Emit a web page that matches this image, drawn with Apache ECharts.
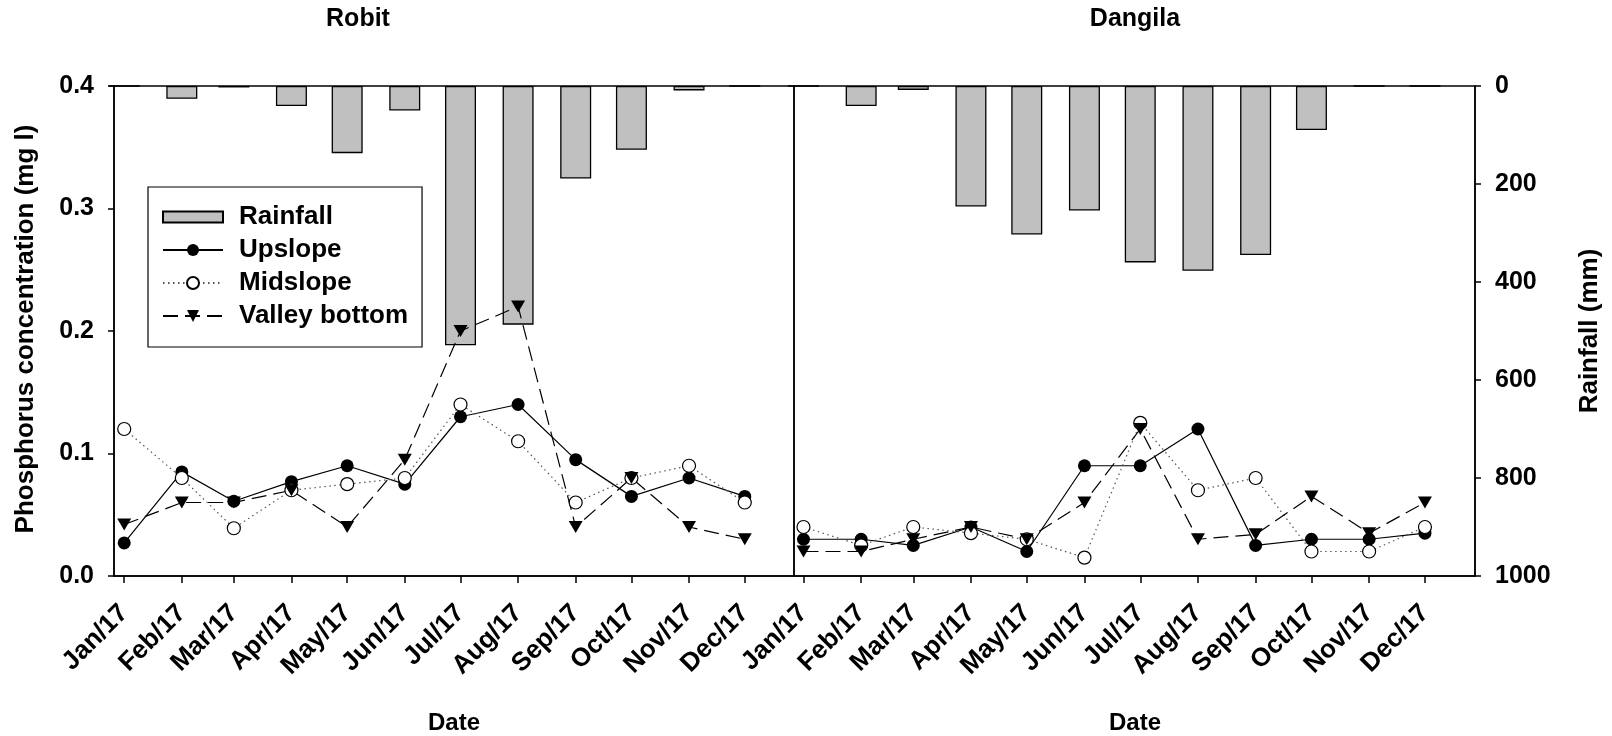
<!DOCTYPE html>
<html>
<head>
<meta charset="utf-8">
<script src="https://cdn.jsdelivr.net/npm/echarts@6/dist/echarts.min.js"></script>
<style>
html,body{margin:0;padding:0;background:#fff;}
#chart{width:1612px;height:736px;}
</style>
</head>
<body>
<div id="chart"></div>
<script>
// ---- data ----
const monthDates = ['2017-01-01','2017-02-01','2017-03-01','2017-04-01','2017-05-01','2017-06-01',
                    '2017-07-01','2017-08-01','2017-09-01','2017-10-01','2017-11-01','2017-12-01'];
const monthLabels = ['Jan/17','Feb/17','Mar/17','Apr/17','May/17','Jun/17',
                     'Jul/17','Aug/17','Sep/17','Oct/17','Nov/17','Dec/17'];
const concTicks = [0, 0.1, 0.2, 0.3, 0.4];
const rainTicks = [0, 200, 400, 600, 800, 1000];

const robitRain     = [0, 26, 3, 41, 137, 50, 529, 487, 189, 130, 9, 0];
const robitUpslope  = [0.027, 0.085, 0.061, 0.077, 0.090, 0.075, 0.130, 0.140, 0.095, 0.065, 0.080, 0.065];
const robitMidslope = [0.120, 0.080, 0.039, 0.070, 0.075, 0.080, 0.140, 0.110, 0.060, 0.080, 0.090, 0.060];
const robitValley   = [0.042, 0.060, 0.060, 0.070, 0.040, 0.095, 0.200, 0.220, 0.040, 0.080, 0.040, 0.030];

const dangilaRain     = [0, 41, 8, 246, 303, 254, 360, 377, 345, 90, 0, 0];
const dangilaUpslope  = [0.030, 0.030, 0.025, 0.040, 0.020, 0.090, 0.090, 0.120, 0.025, 0.030, 0.030, 0.035];
const dangilaMidslope = [0.040, 0.025, 0.040, 0.035, 0.030, 0.015, 0.125, 0.070, 0.080, 0.020, 0.020, 0.040];
const dangilaValley   = [0.020, 0.020, 0.030, 0.040, 0.030, 0.060, 0.120, 0.030, 0.034, 0.065, 0.035, 0.060];

// ---- helpers ----
const DAY = 86400000;
const yearStart = Date.parse('2017-01-01T00:00:00Z');
const days = monthDates.map(d => Math.round((Date.parse(d + 'T00:00:00Z') - yearStart) / DAY));
const pairs = arr => days.map((d, i) => [d, arr[i]]);

const FONT = '"Liberation Sans", Arial, Helvetica, sans-serif';
const yTickFont = {fontFamily: FONT, fontWeight: 'bold', fontSize: 25, color: '#000'};
const xTickFont = {fontFamily: FONT, fontWeight: 'bold', fontSize: 26, color: '#000'};

const chart = echarts.init(document.getElementById('chart'), null, {renderer: 'canvas'});

function xAxisFor(gridIndex, min, max) {
  return {
    type: 'value', gridIndex: gridIndex, min: min, max: max,
    axisLine: {show: true, onZero: false, lineStyle: {color: '#000', width: 1.5}},
    axisTick: {show: true, inside: false, length: 7, customValues: days, lineStyle: {color: '#000', width: 1.5}},
    axisLabel: Object.assign({
      show: true, rotate: 45, margin: 33, customValues: days,
      formatter: v => { const i = days.indexOf(Math.round(v)); return i >= 0 ? monthLabels[i] : ''; }
    }, xTickFont),
    splitLine: {show: false}
  };
}

const lineCommon = {type: 'line', animation: false, z: 5};

const upStyle = {
  symbol: 'circle', symbolSize: 13,
  itemStyle: {color: '#000'},
  lineStyle: {color: '#000', width: 1.2, type: 'solid'}
};
const midStyle = {
  symbol: 'circle', symbolSize: 13,
  itemStyle: {color: '#fff', borderColor: '#000', borderWidth: 1.2},
  lineStyle: {color: '#555', width: 1.2, type: [1.5, 3.5]}
};
const valleyStyle = {
  symbol: 'path://M0,0 L2,0 L1,1.7 Z', symbolSize: [14, 12],
  itemStyle: {color: '#000'},
  lineStyle: {color: '#000', width: 1.2, type: [15, 7]}
};
const barStyle = {
  type: 'bar', barWidth: 31, animation: false, z: 2,
  itemStyle: {color: '#c0c0c0', borderColor: '#000', borderWidth: 1.3}
};

const hiddenY = {axisLine: {show: false, onZero: false}, axisTick: {show: false}, axisLabel: {show: false}, splitLine: {show: false}};

const option = {
  backgroundColor: '#fff',
  animation: false,
  grid: [
    {left: 114, top: 86, width: 680, height: 490, show: true, borderColor: '#000', borderWidth: 1.5, backgroundColor: 'transparent', outerBoundsMode: 'none'},
    {left: 794, top: 86, width: 681, height: 490, show: true, borderColor: '#000', borderWidth: 1.5, backgroundColor: 'transparent', outerBoundsMode: 'none'}
  ],
  xAxis: [
    xAxisFor(0, -5.5, 360.5),
    xAxisFor(1, -5.1, 360.9)
  ],
  yAxis: [
    { // concentration, left panel
      type: 'value', gridIndex: 0, position: 'left', min: 0, max: 0.4, interval: 0.1,
      axisLine: {show: true, onZero: false, lineStyle: {color: '#000', width: 1.5}},
      axisTick: {show: true, inside: false, length: 6, lineStyle: {color: '#000', width: 1.5}},
      axisLabel: Object.assign({margin: 20, customValues: concTicks, formatter: v => v.toFixed(1)}, yTickFont),
      splitLine: {show: false}
    },
    Object.assign({ // rainfall, left panel (hidden)
      type: 'value', gridIndex: 0, position: 'right', min: 0, max: 1000, inverse: true
    }, hiddenY),
    Object.assign({ // concentration, right panel (hidden)
      type: 'value', gridIndex: 1, position: 'left', min: 0, max: 0.4
    }, hiddenY),
    { // rainfall, right panel
      type: 'value', gridIndex: 1, position: 'right', min: 0, max: 1000, interval: 200, inverse: true,
      axisLine: {show: true, onZero: false, lineStyle: {color: '#000', width: 1.5}},
      axisTick: {show: true, inside: false, length: 6, lineStyle: {color: '#000', width: 1.5}},
      axisLabel: Object.assign({margin: 20, customValues: rainTicks, formatter: v => String(v)}, yTickFont),
      splitLine: {show: false}
    }
  ],
  legend: {
    show: true, orient: 'vertical', left: 148, top: 187,
    data: [
      {name: 'Rainfall', icon: 'path://M0,0 M0,2 L60,2 L60,13 L0,13 Z M60,15'},
      'Upslope', 'Midslope', 'Valley bottom'
    ],
    itemWidth: 60, itemHeight: 15, itemGap: 7,
    padding: [17, 14, 18, 14],
    borderColor: '#000', borderWidth: 1.2, backgroundColor: '#fff',
    selectedMode: false,
    textStyle: {fontFamily: FONT, fontWeight: 'bold', fontSize: 26, color: '#000', padding: [0, 0, 0, 11]},
    z: 10
  },
  series: [
    Object.assign({name: 'Rainfall', xAxisIndex: 0, yAxisIndex: 1, data: pairs(robitRain)}, barStyle),
    Object.assign({name: 'Rainfall', xAxisIndex: 1, yAxisIndex: 3, data: pairs(dangilaRain)}, barStyle),
    Object.assign({name: 'Upslope', xAxisIndex: 0, yAxisIndex: 0, data: pairs(robitUpslope)}, lineCommon, upStyle),
    Object.assign({name: 'Midslope', xAxisIndex: 0, yAxisIndex: 0, data: pairs(robitMidslope)}, lineCommon, midStyle),
    Object.assign({name: 'Valley bottom', xAxisIndex: 0, yAxisIndex: 0, data: pairs(robitValley)}, lineCommon, valleyStyle),
    Object.assign({name: 'Upslope', xAxisIndex: 1, yAxisIndex: 2, data: pairs(dangilaUpslope)}, lineCommon, upStyle),
    Object.assign({name: 'Midslope', xAxisIndex: 1, yAxisIndex: 2, data: pairs(dangilaMidslope)}, lineCommon, midStyle),
    Object.assign({name: 'Valley bottom', xAxisIndex: 1, yAxisIndex: 2, data: pairs(dangilaValley)}, lineCommon, valleyStyle)
  ],
  graphic: [
    {type: 'text', x: 358, y: 19, style: {text: 'Robit', fontFamily: FONT, fontWeight: 'bold', fontSize: 25, fill: '#000', align: 'center', verticalAlign: 'middle', textAlign: 'center', textVerticalAlign: 'middle'}},
    {type: 'text', x: 1135, y: 19, style: {text: 'Dangila', fontFamily: FONT, fontWeight: 'bold', fontSize: 25, fill: '#000', align: 'center', verticalAlign: 'middle', textAlign: 'center', textVerticalAlign: 'middle'}},
    {type: 'text', x: 454, y: 723, style: {text: 'Date', fontFamily: FONT, fontWeight: 'bold', fontSize: 24, fill: '#000', align: 'center', verticalAlign: 'middle', textAlign: 'center', textVerticalAlign: 'middle'}},
    {type: 'text', x: 1135, y: 723, style: {text: 'Date', fontFamily: FONT, fontWeight: 'bold', fontSize: 24, fill: '#000', align: 'center', verticalAlign: 'middle', textAlign: 'center', textVerticalAlign: 'middle'}},
    {type: 'text', x: 26, y: 329, rotation: Math.PI / 2, style: {text: 'Phosphorus concentration (mg l)', fontFamily: FONT, fontWeight: 'bold', fontSize: 26, fill: '#000', align: 'center', verticalAlign: 'middle', textAlign: 'center', textVerticalAlign: 'middle'}},
    {type: 'text', x: 1590, y: 331, rotation: Math.PI / 2, style: {text: 'Rainfall (mm)', fontFamily: FONT, fontWeight: 'bold', fontSize: 26, fill: '#000', align: 'center', verticalAlign: 'middle', textAlign: 'center', textVerticalAlign: 'middle'}}
  ]
};

chart.setOption(option);
</script>
</body>
</html>
